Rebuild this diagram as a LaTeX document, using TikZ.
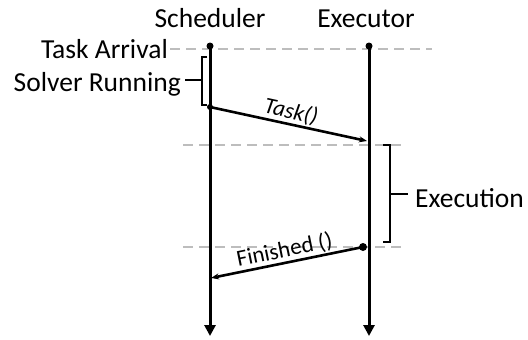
\documentclass[tikz,border=0pt]{standalone}
\usepackage{fontspec}
\setmainfont{Carlito}
\usetikzlibrary{arrows.meta}
\definecolor{guide}{HTML}{BDBDBD}
\begin{document}
\begin{tikzpicture}[x=1bp,y=-1bp,
  lbl/.style={inner sep=0pt,font=\fontsize{27.5bp}{30bp}\selectfont},
  msglbl/.style={inner sep=1pt,font=\fontsize{23bp}{26bp}\selectfont},
  lifeline/.style={line width=3bp,-{Triangle[length=11bp,width=11bp]}},
  msg/.style={line width=2.6bp,-{Stealth[length=8bp,width=6bp]}},
  guideline/.style={guide,line width=1.6bp,dash pattern=on 10bp off 6bp},
  brace/.style={line width=1.2bp},
  dotmark/.style={circle,fill=black,inner sep=0pt,minimum size=#1}]
\useasboundingbox (0,0) rectangle (528,339);

% lifelines
\coordinate (sTop) at (210,46);
\coordinate (sBot) at (210,336);
\coordinate (eTop) at (369,46);
\coordinate (eBot) at (369,336);
\node[lbl,anchor=base] (sched) at (210,27) {Scheduler};
\node[lbl,anchor=base] (exec) at (366,27) {Executor};

% guide lines
\coordinate (g1a) at (170,49);  \coordinate (g1b) at (432,49);
\coordinate (g2a) at (183,145); \coordinate (g2b) at (407,145);
\coordinate (g3a) at (183,247); \coordinate (g3b) at (407,247);
\draw[guideline] (g1a) -- (g1b);
\draw[guideline] (g2a) -- (g2b);
\draw[guideline] (g3a) -- (g3b);

\draw[lifeline] (sTop) -- (sBot);
\draw[lifeline] (eTop) -- (eBot);
\node[dotmark=7bp] (sDot) at (sTop) {};
\node[dotmark=7bp] (eDot) at (eTop) {};

% left annotations
\node[lbl,anchor=base east] (arrival) at (168,58) {Task Arrival};
\node[lbl,anchor=base east] (solver) at (181,91) {Solver Running};
\coordinate (bTop) at (207,57);
\coordinate (bBot) at (207,105);
\coordinate (bTick) at (185,80);
\draw[brace] (bTop) -- ++(-5,0) |- (bBot);
\draw[brace] (bTick) -- ++(17,0);

% messages
\coordinate (taskStart) at (210,107);
\coordinate (taskEnd) at (367,141);
\node[dotmark=6bp] (tDot) at (taskStart) {};
\draw[msg] (taskStart) -- node[msglbl,sloped,above,pos=0.5,font=\fontsize{23bp}{26bp}\selectfont\itshape] {Task()} (taskEnd);

\coordinate (finStart) at (363,247);
\coordinate (finEnd) at (211,278);
\node[dotmark=8bp] (fDot) at (finStart) {};
\draw[msg] (finStart) -- node[msglbl,sloped,above,pos=0.5] {Finished ()} (finEnd);

% execution bracket
\coordinate (xTop) at (383,145);
\coordinate (xBot) at (383,242);
\coordinate (xTick) at (390,194);
\draw[brace] (xTop) -- ++(7,0) |- (xBot);
\draw[brace] (xTick) -- ++(18,0);
\node[lbl,anchor=base west] (execution) at (415,207) {Execution};
\end{tikzpicture}
\end{document}
